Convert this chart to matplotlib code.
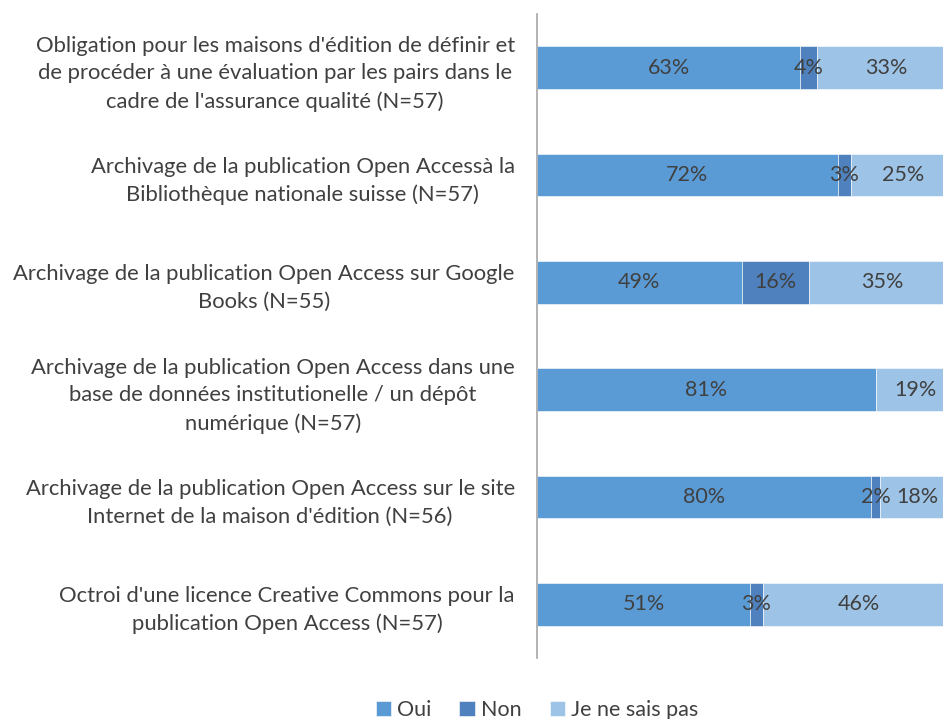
import numpy as np
import matplotlib.pyplot as plt

plt.rcParams['font.family'] = ['Lato', 'DejaVu Sans']

categories = [
    "Obligation pour les maisons d'édition de définir et\nde procéder à une évaluation par les pairs dans le\ncadre de l'assurance qualité (N=57)",
    "Archivage de la publication Open Accessà la\nBibliothèque nationale suisse (N=57)",
    "Archivage de la publication Open Access sur Google\nBooks (N=55)",
    "Archivage de la publication Open Access dans une\nbase de données institutionelle / un dépôt\nnumérique (N=57)",
    "Archivage de la publication Open Access sur le site\nInternet de la maison d'édition (N=56)",
    "Octroi d'une licence Creative Commons pour la\npublication Open Access (N=57)",
]
oui = [63, 72, 49, 81, 80, 51]
non = [4, 3, 16, 0, 2, 3]
nsp = [33, 25, 35, 19, 18, 46]

series = [("Oui", oui, '#5B9BD5'), ("Non", non, '#4E81BD'), ("Je ne sais pas", nsp, '#9DC3E6')]

fig = plt.figure(figsize=(9.43, 7.19), dpi=100)
# axes run past the right edge of the figure, as in the original
ax = fig.add_axes([537 / 943, 1 - 658 / 719, 418 / 943, 644 / 719])

y = np.arange(len(categories))
left = np.zeros(len(categories))
for name, vals, color in series:
    vals = np.array(vals, dtype=float)
    ax.barh(y, vals, left=left, height=0.4, color=color, label=name,
            edgecolor='white', linewidth=0.4)
    for yi, l, v in zip(y, left, vals):
        if v > 0:
            ax.text(l + v / 2, yi, f"{int(v)}%", ha='center', va='center',
                    fontsize=15.5, color='#404040')
    left += vals

ax.set_xlim(0, 100)
ax.set_ylim(len(categories) - 0.5, -0.5)
ax.set_yticks(y)
ax.set_yticklabels(categories, fontsize=15.8, color='#404040', linespacing=1.47)
for lab in ax.get_yticklabels():
    lab.set_multialignment('center')
ax.tick_params(axis='y', length=0, pad=16)
ax.set_xticks([])
for s in ['top', 'right', 'bottom']:
    ax.spines[s].set_visible(False)
ax.spines['left'].set_color('#A6A6A6')
ax.spines['left'].set_linewidth(1.2)

fig.legend(loc='lower center', bbox_to_anchor=(537 / 943, -0.028), ncol=3, frameon=False,
           fontsize=15.5, handlelength=0.7, handleheight=0.7, handletextpad=0.3,
           columnspacing=1.3, labelcolor='#404040')

fig.savefig('out.png', dpi=100)
